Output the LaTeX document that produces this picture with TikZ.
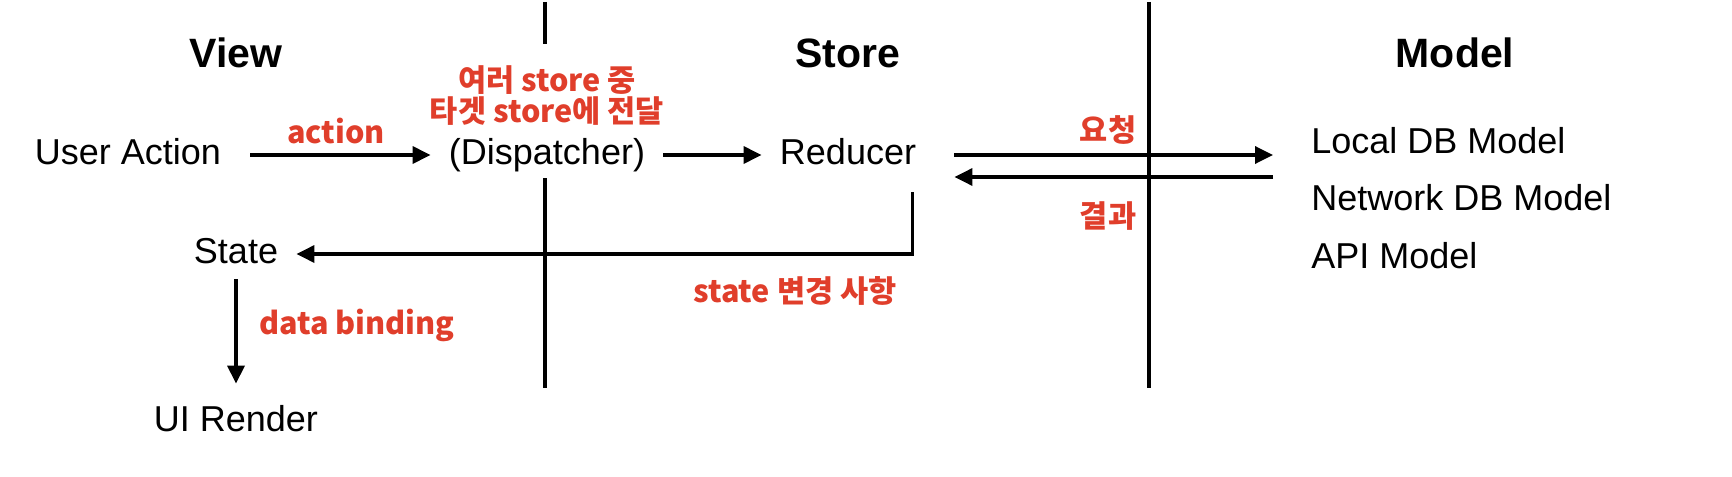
\documentclass[tikz,border=0pt]{standalone}
\usepackage{fontspec}
\setmainfont{Liberation Sans}
\newfontfamily\hangulfont{Noto Sans CJK KR}
\usetikzlibrary{calc,arrows.meta}
\definecolor{flame}{HTML}{E03E2B}

\tikzset{
  lbl/.style={font=\fontsize{18pt}{21pt}\selectfont, inner xsep=9pt, inner ysep=0pt,
    text height=13pt, text depth=4pt},
  head/.style={font=\fontsize{20.5pt}{24pt}\selectfont\bfseries},
  note/.style={font=\hangulfont\bfseries\fontsize{15.3pt}{15.5pt}\selectfont, flame, align=center},
  arr/.style={line width=1.7pt, -{Triangle[length=9pt,width=8.5pt]}},
  rule/.style={line width=1.7pt}
}

\begin{document}
\begin{tikzpicture}[x=0.5pt, y=-0.5pt]
  \useasboundingbox (0,0) rectangle (1732,476);
  % column titles
  \foreach \x/\nm/\lab in {236/hview/View, 848/hstore/Store, 1455/hmodel/Model}
    \node[head] (\nm) at (\x,53) {\lab};
  % dividers
  \draw[rule] (545,2) -- (545,44);
  \draw[rule] (545,178) -- (545,388);
  \draw[rule] (1149,2) -- (1149,388);
  % flow
  \node[lbl] (useraction) at (128,155) {User Action};
  \node[lbl] (dispatcher) at (547,155) {(Dispatcher)};
  \node[lbl] (reducer) at (848,155) {Reducer};
  \node[lbl] (state) at (236,254) {State};
  \node[lbl] (uirender) at (236,422) {UI Render};
  \foreach \y/\nm/\lab in {144/local/Local DB Model, 201/network/Network DB Model, 259/api/API Model}
    \node[lbl, anchor=west] (\nm) at (1293,\y) {\lab};
  \draw[arr, shorten <=5.5pt] (useraction) -- (dispatcher);
  \draw[arr] (dispatcher) -- (reducer);
  \draw[arr, shorten <=10pt, shorten >=10pt] (reducer.east) -- (reducer.east -| local.west);
  \draw[arr, shorten <=10pt, shorten >=10pt] ($(reducer.east -| local.west)+(0,22)$) -- ($(reducer.east)+(0,22)$);
  \draw[arr, shorten <=10pt] ([xshift=-11pt]reducer.south east) |- (state);
  \draw[arr, shorten <=4pt, shorten >=10.5pt] (state) -- (uirender);
  % red notes
  \node[note] (actionlbl) at (336,131) {action};
  \node[note] (routelbl) at (547,96) {여러 store 중\\타겟 store에 전달};
  \node[note] (reqlbl) at (1108,130) {요청};
  \node[note] (reslbl) at (1108,216) {결과};
  \node[note] (changelbl) at (795,291) {state 변경 사항};
  \node[note] (bindlbl) at (357,325) {data binding};
\end{tikzpicture}
\end{document}
